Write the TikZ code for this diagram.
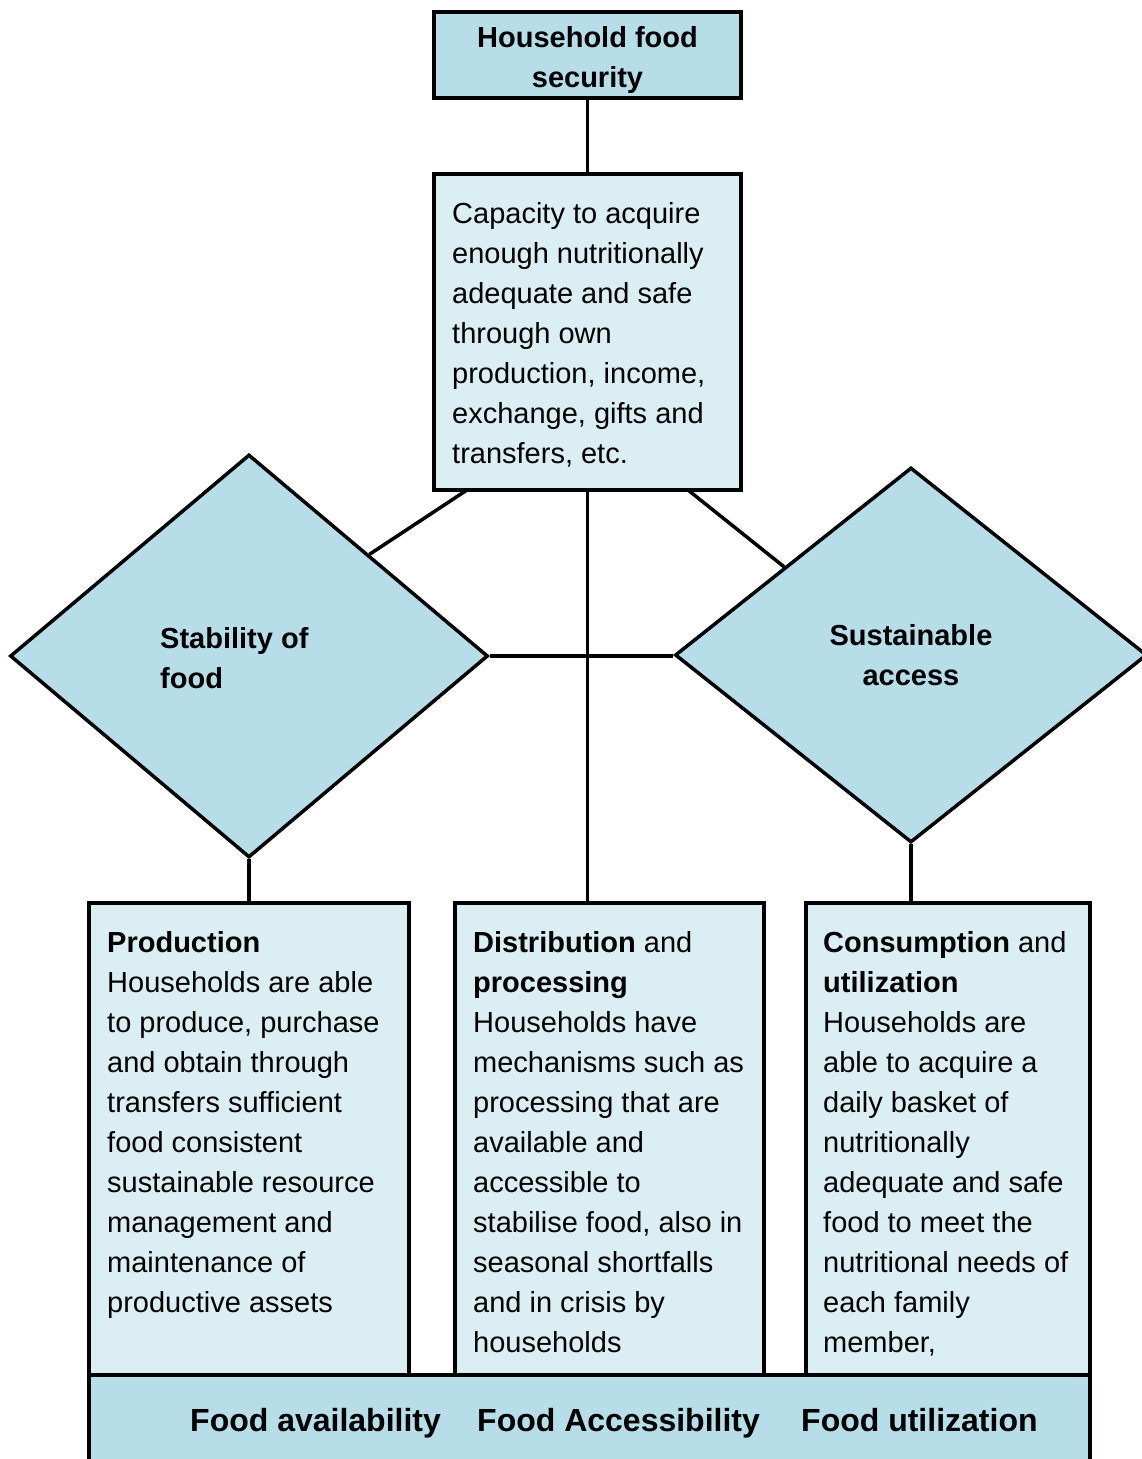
\documentclass[tikz,border=0pt]{standalone}
\usepackage{fontspec}
\setmainfont{Liberation Sans}
\usetikzlibrary{calc,shapes.geometric}
\definecolor{boxdark}{HTML}{B7DDE8}
\definecolor{boxlight}{HTML}{DBEEF3}
\tikzset{
  darkbox/.style={draw=black, line width=3.5pt, fill=boxdark, inner sep=0pt, rectangle},
  lightbox/.style={draw=black, line width=3.5pt, fill=boxlight, inner sep=0pt, rectangle},
  dia/.style={draw=black, line width=3.5pt, fill=boxdark, inner sep=0pt, shape=diamond},
  conn/.style={draw=black, line width=3.5pt},
  bodytxt/.style={inner sep=0pt, align=left, anchor=base west, font=\fontsize{29}{40}\selectfont},
  headtxt/.style={inner sep=0pt, anchor=base, align=center, font=\fontsize{29}{40}\selectfont\bfseries},
  bartxt/.style={inner sep=0pt, anchor=base west, font=\fontsize{32}{40}\selectfont\bfseries}
}
\begin{document}
\begin{tikzpicture}[x=1pt,y=-1pt]
\useasboundingbox (0,0) rectangle (1142,1459);
% shapes
\node[darkbox, minimum width=307pt, minimum height=86pt] (top) at (587.5,55) {};
\node[lightbox, minimum width=307pt, minimum height=316pt] (cap) at (587.5,332) {};
\node[dia, minimum width=478pt, minimum height=403pt] (dL) at (249,656) {};
\node[dia, minimum width=472pt, minimum height=375pt] (dR) at (911,655) {};
\node[lightbox, minimum width=320pt, minimum height=472pt] (prod) at (249,1139) {};
\node[lightbox, minimum width=309pt, minimum height=472pt] (dist) at (609.5,1139) {};
\node[lightbox, minimum width=284pt, minimum height=472pt] (cons) at (948,1139) {};
\node[darkbox, minimum width=1001pt, minimum height=100pt] (bar) at (589.5,1425) {};
% connectors
\coordinate (capL) at (467,490);
\coordinate (capR) at (688,490);
\draw[conn] (top.south) -- (cap.north);
\draw[conn] (capL) -- ($(dL.north)!0.5!(dL.east)$);
\draw[conn] (capR) -- ($(dR.west)!0.466!(dR.north)$);
\draw[conn] (cap.south) -- (cap.south |- dist.north);
\draw[conn] (dL.east) -- (dL.east -| dR.west);
\draw[conn] (dL.south) -- (dL.south |- prod.north);
\draw[conn] (dR.south) -- (dR.south |- cons.north);
% texts (anchor = baseline of last line)
\node[headtxt] (ttop) at (587.5,87) {Household food\\security};
\node[bodytxt] (tcap) at (452,463) {Capacity to acquire\\enough nutritionally\\adequate and safe\\through own\\production, income,\\exchange, gifts and\\transfers, etc.};
\node[bodytxt, font=\fontsize{29}{40}\selectfont\bfseries] (tdL) at (160,688) {Stability of\\food};
\node[headtxt] (tdR) at (911,685) {Sustainable\\access};
\node[bodytxt] (tprod) at (107,1312) {\textbf{Production}\\Households are able\\to produce, purchase\\and obtain through\\transfers sufficient\\food consistent\\sustainable resource\\management and\\maintenance of\\productive assets};
\node[bodytxt] (tdist) at (473,1352) {\textbf{Distribution} and\\\textbf{processing}\\Households have\\mechanisms such as\\processing that are\\available and\\accessible to\\stabilise food, also in\\seasonal shortfalls\\and in crisis by\\households};
\node[bodytxt] (tcons) at (823,1352) {\textbf{Consumption} and\\\textbf{utilization}\\Households are\\able to acquire a\\daily basket of\\nutritionally\\adequate and safe\\food to meet the\\nutritional needs of\\each family\\member,};
\node[bartxt] (b1) at (190,1431) {Food availability};
\node[bartxt] (b2) at (477,1431) {Food Accessibility};
\node[bartxt] (b3) at (801,1431) {Food utilization};
\end{tikzpicture}
\end{document}
